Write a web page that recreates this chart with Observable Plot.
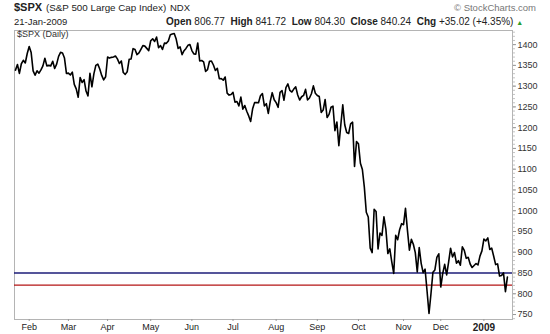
<!DOCTYPE html>
<html>
<head>
<meta charset="utf-8">
<script src="https://cdn.jsdelivr.net/npm/d3@7"></script>
<script src="https://cdn.jsdelivr.net/npm/@observablehq/plot@0.6"></script>
<style>
  html, body { margin: 0; padding: 0; background: #fff; }
  #wrap { position: relative; width: 550px; height: 334px; overflow: hidden; font-family: "Liberation Sans", Arial, sans-serif; color: #222; }
  #wrap svg { position: absolute; left: 0; top: 0; }
  .t { position: absolute; white-space: nowrap; line-height: 1; }
  .b { font-weight: bold; }
</style>
</head>
<body>
<div id="wrap"></div>
<script>
// S&P 500 daily closes, 23-Jan-2008 .. 21-Jan-2009 (one value per trading day)
const closes = [
  // Jan 2008
  1338.60, 1352.07, 1330.61, 1353.96, 1362.30, 1355.81, 1378.55,
  // Feb
  1395.42, 1380.82, 1336.64, 1326.45, 1336.91, 1331.29, 1339.13, 1348.86, 1367.21, 1348.86,
  1349.99, 1348.78, 1360.03, 1342.53, 1353.11, 1371.80, 1381.29, 1380.02, 1367.68, 1330.63,
  // Mar
  1331.34, 1326.75, 1333.70, 1304.34, 1293.37, 1273.37, 1320.65, 1308.77, 1315.48, 1288.14,
  1276.60, 1330.74, 1298.42, 1329.51, 1349.88, 1352.99, 1341.13, 1325.76, 1315.22, 1322.70,
  // Apr
  1370.18, 1367.53, 1369.31, 1370.40, 1372.54, 1365.54, 1354.49, 1360.55, 1332.83, 1328.32, 1334.43,
  1364.71, 1365.56, 1390.33, 1388.17, 1375.94, 1379.93, 1388.82, 1397.84, 1396.37, 1390.94, 1385.59,
  // May
  1409.34, 1413.90, 1407.49, 1418.26, 1392.57, 1397.68, 1388.28, 1403.58, 1403.04, 1408.66, 1423.57,
  1425.35, 1426.63, 1413.40, 1390.71, 1394.35, 1375.93, 1385.35, 1390.84, 1398.26, 1400.38,
  // Jun
  1385.67, 1377.65, 1377.20, 1404.05, 1360.68, 1361.76, 1358.44, 1335.49, 1339.87, 1360.03, 1360.14,
  1350.93, 1337.81, 1342.83, 1317.93, 1318.00, 1314.29, 1321.97, 1283.15, 1278.38, 1280.00,
  // Jul
  1284.91, 1261.52, 1262.90, 1252.31, 1273.70, 1244.69, 1253.39, 1239.49, 1228.30, 1214.91, 1245.36,
  1260.32, 1260.68, 1260.00, 1277.00, 1282.19, 1252.54, 1257.76, 1234.37, 1263.20, 1284.26, 1267.38,
  // Aug
  1260.31, 1249.01, 1284.88, 1289.19, 1266.07, 1296.32, 1305.32, 1289.59, 1285.83, 1292.93, 1298.20,
  1278.60, 1266.69, 1274.54, 1277.72, 1292.20, 1266.84, 1271.51, 1281.66, 1300.68, 1282.83,
  // Sep
  1277.58, 1274.98, 1236.83, 1242.31, 1267.79, 1224.51, 1232.04, 1249.05, 1251.70, 1192.70, 1213.60,
  1156.39, 1206.51, 1255.08, 1207.09, 1188.22, 1185.87, 1209.18, 1213.27, 1106.42, 1166.36,
  // Oct
  1161.06, 1114.28, 1099.23, 1056.89, 996.23, 984.94, 909.92, 899.22, 1003.35, 998.01, 907.84, 946.43,
  940.55, 985.40, 955.05, 896.78, 908.11, 876.77, 848.92, 940.51, 930.09, 954.09, 968.75,
  // Nov
  966.30, 1005.75, 952.77, 904.88, 930.99, 919.21, 898.95, 852.30, 911.29, 873.29,
  850.75, 859.12, 806.58, 752.44, 800.03, 851.81, 857.39, 887.68, 896.24,
  // Dec
  816.21, 848.81, 870.74, 845.22, 876.07, 909.70, 888.67, 899.24, 873.59, 879.73, 868.57,
  913.18, 904.42, 885.28, 887.88, 871.63, 863.16, 868.15, 872.80, 869.42, 890.64, 903.25,
  // Jan 2009
  931.80, 927.45, 934.70, 906.65, 909.73, 890.35, 870.26, 871.79, 842.62, 843.74, 850.12, 805.22, 840.24
];

// trading-day index of the first session of each month, and its label
const monthTicks  = [7, 27, 47, 69, 90, 111, 133, 154, 175, 198, 217, 239];
const monthLabels = ["Feb", "Mar", "Apr", "May", "Jun", "Jul", "Aug", "Sep", "Oct", "Nov", "Dec", "2009"];

const yTicks = [750, 800, 850, 900, 950, 1000, 1050, 1100, 1150, 1200, 1250, 1300, 1350, 1400];
const yMinorTicks = d3.range(740, 1431, 10);

const blueLevel = [850];
const redLevel = [821];

const chart = Plot.plot({
  width: 550,
  height: 334,
  marginLeft: 14,
  marginRight: 38,
  marginTop: 30,
  marginBottom: 15,
  style: { fontFamily: "'Liberation Sans', Arial, sans-serif", fontSize: "9px", background: "white", color: "#333" },
  x: { domain: [-0.5, 253.6] },
  y: { domain: [738, 1434] },
  marks: [
    Plot.frame({ stroke: "#b4b4b4" }),
    Plot.axisY(yMinorTicks, { anchor: "right", tickSize: 2, tickFormat: () => "", stroke: "#c4c4c4", label: null }),
    Plot.axisY(yTicks, { anchor: "right", tickSize: 3, tickPadding: 2, stroke: "#999", fill: "#333", label: null, tickFormat: d => String(d) }),
    Plot.axisX(monthTicks, {
      anchor: "bottom", tickSize: 2, tickPadding: 2, stroke: "#999", fill: "#222", label: null,
      tickFormat: d => monthLabels[monthTicks.indexOf(d)]
    }),
    Plot.ruleY(blueLevel, { stroke: "#1c1c78", strokeWidth: 1.3 }),
    Plot.ruleY(redLevel, { stroke: "#b41414", strokeWidth: 1.3 }),
    Plot.lineY(closes, { x: (d, i) => i, y: d => d, stroke: "black", strokeWidth: 1.6 })
  ]
});

chart.querySelectorAll("text").forEach(t => {
  if (t.textContent === "2009") { t.setAttribute("font-weight", "bold"); t.style.fontSize = "10px"; }
});

const wrap = document.getElementById("wrap");
wrap.appendChild(chart);

function addText(html, left, top, size, extra) {
  const s = document.createElement("span");
  s.className = "t";
  s.innerHTML = html;
  s.style.left = left + "px";
  s.style.top = top + "px";
  s.style.fontSize = size + "px";
  if (extra) Object.assign(s.style, extra);
  wrap.appendChild(s);
}

addText('<span class="b">$SPX</span>', 14, 2, 11);
addText('(S&amp;P 500 Large Cap Index)', 46, 3, 9.8);
addText('NDX', 170, 3, 9.5);
addText('© StockCharts.com', 454, 3, 9.5, { color: "#777" });
addText('21-Jan-2009', 14, 16.5, 9.5);
addText('<span class="b">Open</span> 806.77&nbsp; <span class="b">High</span> 841.72&nbsp; <span class="b">Low</span> 804.30&nbsp; <span class="b">Close</span> 840.24&nbsp; <span class="b">Chg</span> +35.02 (+4.35%) <span style="color:#2a9d2a;font-size:7px">▲</span>', 166, 16.5, 10);
addText('$SPX (Daily)', 17, 30, 9, { color: "#333" });
</script>
</body>
</html>
